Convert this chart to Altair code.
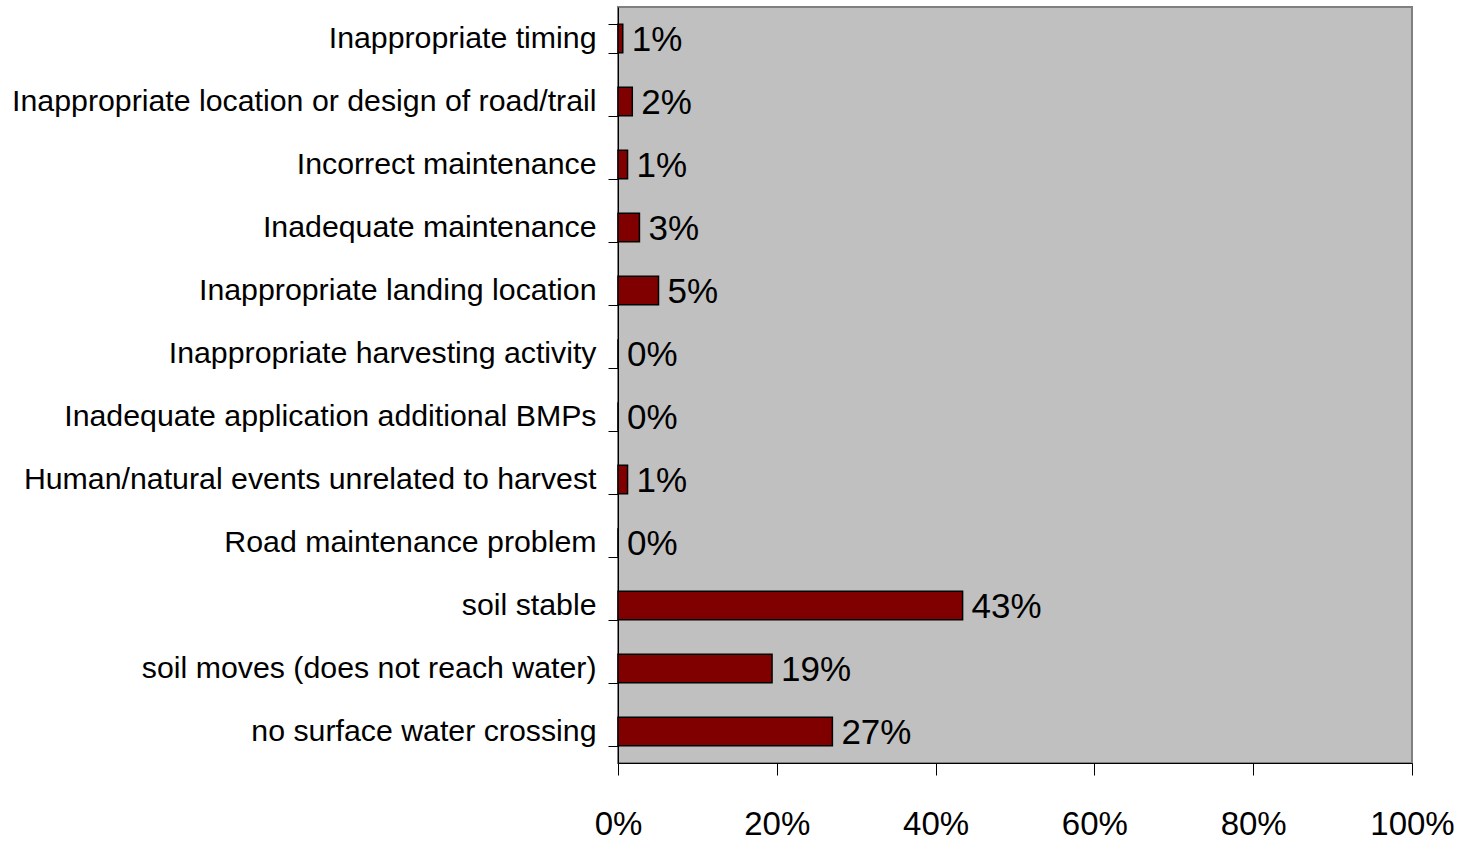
import altair as alt
import pandas as pd

causes = [
    "Inappropriate timing",
    "Inappropriate location or design of road/trail",
    "Incorrect maintenance",
    "Inadequate maintenance",
    "Inappropriate landing location",
    "Inappropriate harvesting activity",
    "Inadequate application additional BMPs",
    "Human/natural events unrelated to harvest",
    "Road maintenance problem",
    "soil stable",
    "soil moves (does not reach water)",
    "no surface water crossing",
]
shares = [0.6, 1.8, 1.2, 2.7, 5.1, 0.0, 0.0, 1.2, 0.0, 43.4, 19.4, 27.0]
x_ticks = [0, 20, 40, 60, 80, 100]

FONT = "Liberation Sans, Arial, sans-serif"

df = pd.DataFrame({"cause": causes, "share": shares})

x_enc = alt.X(
    "share:Q",
    scale=alt.Scale(domain=[0, 100], nice=False, zero=True),
    axis=alt.Axis(
        values=x_ticks,
        labelExpr="datum.value + '%'",
        title=None,
        grid=False,
        domain=True,
        domainColor="#000000",
        domainWidth=1,
        ticks=True,
        tickSize=12,
        tickColor="#000000",
        tickWidth=1,
        labelFlush=False,
        labelOverlap=False,
        labelPadding=33,
        labelFont=FONT,
        labelFontSize=33,
        labelColor="#000000",
    ),
)
y_enc = alt.Y(
    "cause:N",
    sort=causes,
    scale=alt.Scale(paddingInner=0.55, paddingOuter=0.275),
    axis=alt.Axis(
        title=None,
        grid=False,
        domain=True,
        domainColor="#000000",
        domainWidth=1,
        ticks=True,
        tickBand="extent",
        tickSize=10,
        tickColor="#000000",
        tickWidth=1,
        labelPadding=12,
        labelFont=FONT,
        labelFontSize=30.3,
        labelColor="#000000",
        labelLimit=0,
    ),
)

bars = alt.Chart(df).mark_bar(
    color="#800000", stroke="#000000", strokeWidth=1.5
).encode(x=x_enc, y=y_enc)

labels = alt.Chart(df).transform_calculate(
    label="format(datum.share, '.0f') + '%'"
).mark_text(
    align="left", baseline="middle", dx=9, dy=1, font=FONT, fontSize=35, color="#000000"
).encode(x="share:Q", y=alt.Y("cause:N", sort=causes), text="label:N")

chart = alt.layer(bars, labels).properties(
    width=794,
    height=756,
    autosize=alt.AutoSizeParams(type="none"),
    padding={"left": 618, "top": 7, "right": 58, "bottom": 78},
    background="#ffffff",
).configure_view(
    fill="#c0c0c0", stroke="#808080", strokeWidth=2
)

chart.save("out.html", embed_options={"renderer": "svg", "actions": False})
